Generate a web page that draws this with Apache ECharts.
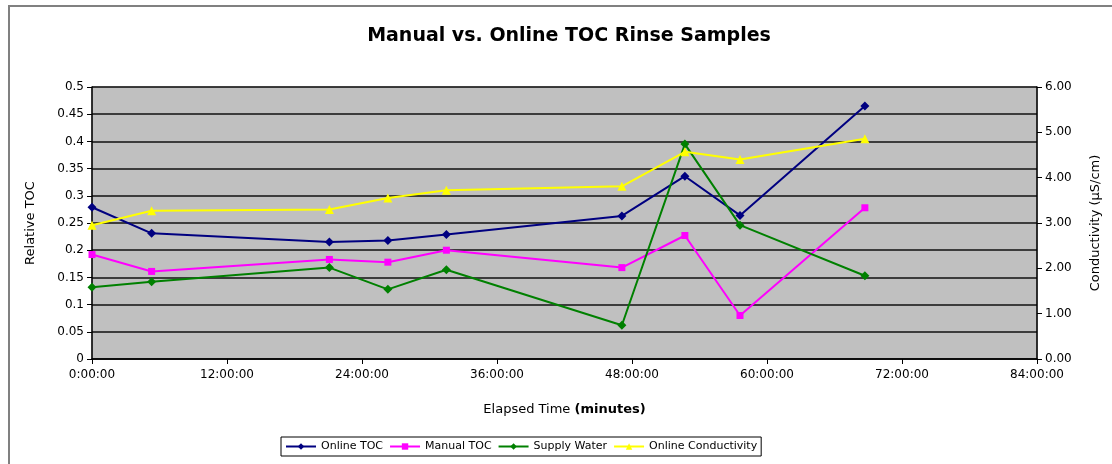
<!DOCTYPE html>
<html>
<head>
<meta charset="utf-8">
<script src="https://cdn.jsdelivr.net/npm/echarts@6/dist/echarts.min.js"></script>
<style>
  html, body { margin: 0; padding: 0; background: #fff; }
  #chart { width: 1112px; height: 464px; }
</style>
</head>
<body>
<div id="chart"></div>
<script>
// elapsed time of each sample, hours
const hours = [0, 5.3, 21.1, 26.3, 31.5, 47.1, 52.7, 57.6, 68.7]
const onlineToc = [0.279, 0.231, 0.215, 0.218, 0.229, 0.263, 0.336, 0.264, 0.465]
const manualToc = [0.192, 0.161, 0.183, 0.178, 0.200, 0.168, 0.227, 0.080, 0.278]
const supplyWater = [0.132, 0.142, 0.168, 0.128, 0.164, 0.062, 0.395, 0.246, 0.153]
const onlineCond = [2.95, 3.27, 3.30, 3.55, 3.72, 3.81, 4.57, 4.40, 4.86]

const pairs = vals => hours.map((h, i) => [h, vals[i]])

const chart = echarts.init(document.getElementById('chart'))

// the original is a stretched Excel export, the wider DejaVu matches its text widths better
const font = '"DejaVu Sans", Arial, sans-serif'

chart.setOption({
  animation: false,
  backgroundColor: '#fff',
  textStyle: { fontFamily: font },
  title: {
    text: 'Manual vs. Online TOC Rinse Samples',
    left: 564,
    textAlign: 'center',
    top: 22,
    textStyle: { fontSize: 19, fontWeight: 'bold', color: '#000', fontFamily: font }
  },
  graphic: [{
    type: 'rect',
    shape: { x: 9, y: 6, width: 1120, height: 480 },
    style: { fill: 'none', stroke: '#808080', lineWidth: 2 },
    silent: true
  }],
  legend: {
    left: 281,
    top: 437,
    padding: [4, 4],
    itemGap: 6,
    itemWidth: 30,
    itemHeight: 8,
    borderColor: '#000',
    borderWidth: 1,
    textStyle: { fontSize: 11, color: '#000', fontFamily: font },
    data: ['Online TOC', 'Manual TOC', 'Supply Water', 'Online Conductivity']
  },
  grid: {
    left: 92, right: 75, top: 87, bottom: 105,
    show: true,
    backgroundColor: '#c0c0c0',
    borderColor: '#909090',
    borderWidth: 1
  },
  xAxis: {
    type: 'value',
    min: 0, max: 84, interval: 12,
    name: '{n|Elapsed Time }{b|(minutes)}',
    nameLocation: 'middle',
    nameGap: 44,
    nameTextStyle: {
      rich: {
        n: { fontSize: 13, color: '#000', fontFamily: font },
        b: { fontSize: 13, color: '#000', fontWeight: 'bold', fontFamily: font }
      }
    },
    axisLine: { onZero: false, lineStyle: { color: '#000', width: 1.5 } },
    axisTick: { length: 5, lineStyle: { color: '#000' } },
    axisLabel: { color: '#000', fontSize: 12, margin: 10, formatter: v => v + ':00:00' },
    splitLine: { show: false }
  },
  yAxis: [{
    type: 'value',
    min: 0, max: 0.5, interval: 0.05,
    name: 'Relative TOC',
    nameLocation: 'middle',
    nameGap: 55,
    nameTextStyle: { fontSize: 13, color: '#000' },
    axisLine: { show: true, lineStyle: { color: '#000', width: 1.5 } },
    axisTick: { show: true, length: 5, lineStyle: { color: '#000' } },
    axisLabel: { color: '#000', fontSize: 12, margin: 8 },
    splitLine: { show: true, lineStyle: { color: '#111', width: 1.5 } }
  }, {
    type: 'value',
    min: 0, max: 6, interval: 1,
    position: 'right',
    name: 'Conductivity (µS/cm)',
    nameLocation: 'middle',
    nameGap: 52,
    nameTextStyle: { fontSize: 13, color: '#000' },
    axisLine: { show: true, lineStyle: { color: '#000', width: 1.5 } },
    axisTick: { show: true, length: 5, lineStyle: { color: '#000' } },
    axisLabel: { color: '#000', fontSize: 12, margin: 8, formatter: v => v.toFixed(2) },
    splitLine: { show: false }
  }],
  series: [{
    name: 'Online TOC',
    type: 'line',
    data: pairs(onlineToc),
    symbol: 'diamond',
    symbolSize: 9,
    color: '#000080',
    lineStyle: { width: 2 }
  }, {
    name: 'Manual TOC',
    type: 'line',
    data: pairs(manualToc),
    symbol: 'rect',
    symbolSize: 7,
    color: '#ff00ff',
    lineStyle: { width: 2 }
  }, {
    name: 'Supply Water',
    type: 'line',
    data: pairs(supplyWater),
    symbol: 'diamond',
    symbolSize: 9,
    color: '#008000',
    lineStyle: { width: 2 }
  }, {
    name: 'Online Conductivity',
    type: 'line',
    yAxisIndex: 1,
    data: pairs(onlineCond),
    symbol: 'triangle',
    symbolSize: 9,
    color: '#ffff00',
    lineStyle: { width: 2 }
  }]
})
</script>
</body>
</html>
